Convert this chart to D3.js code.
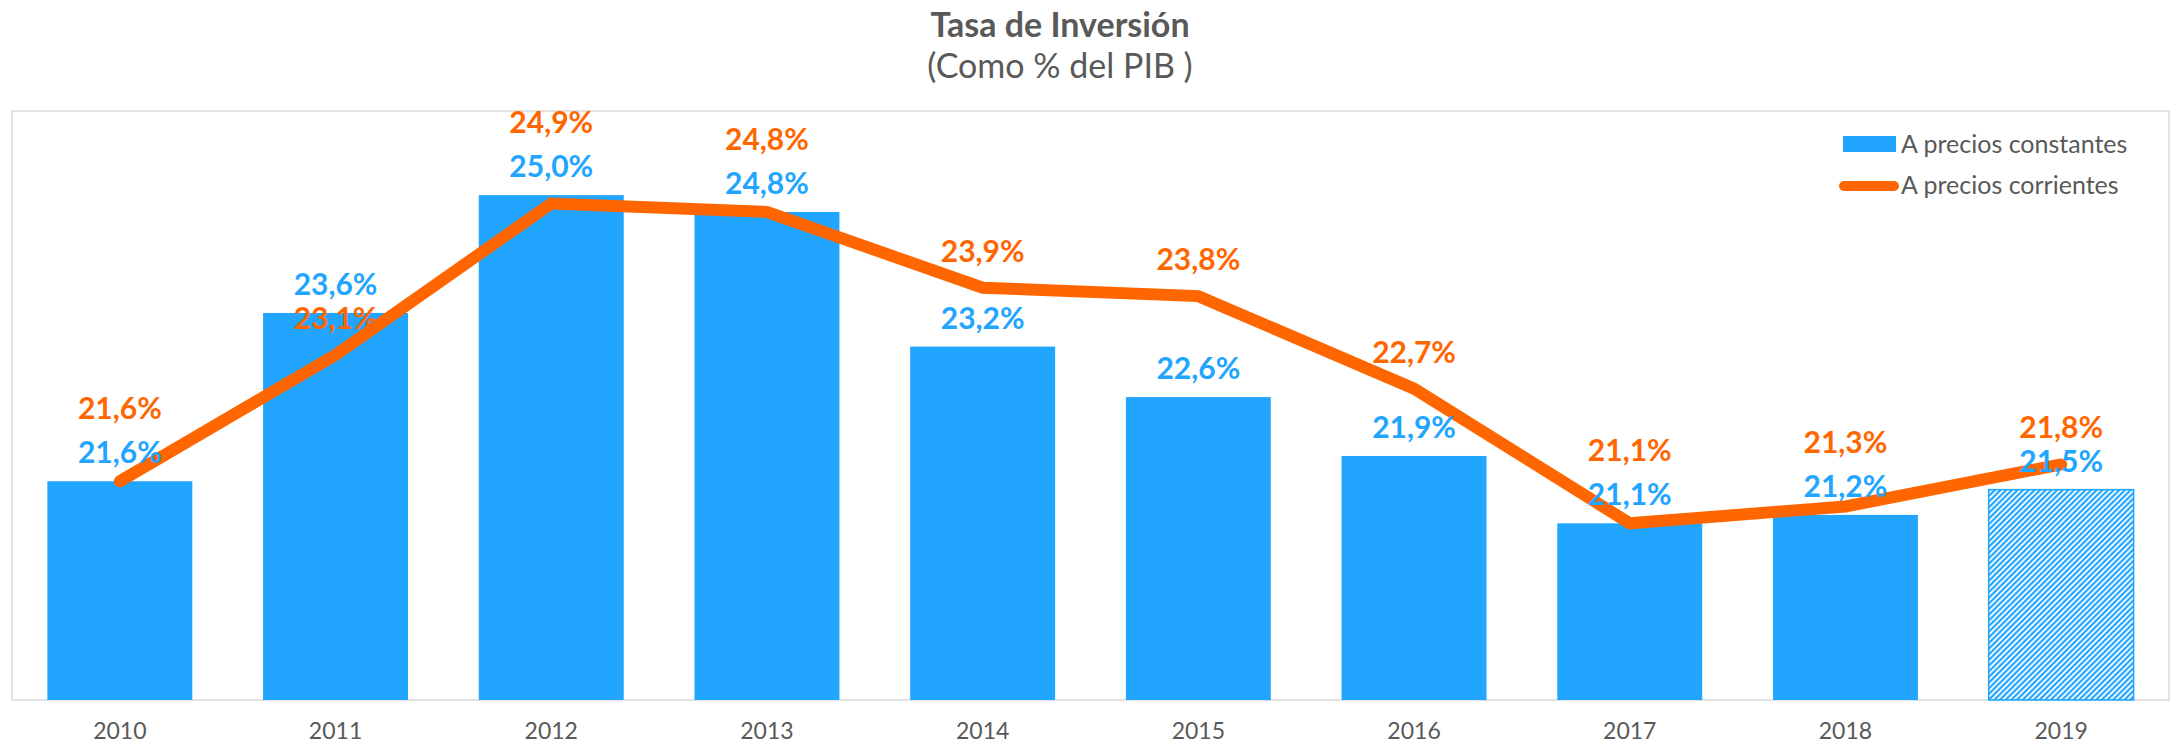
<!DOCTYPE html>
<meta charset="utf-8">
<title>Tasa de Inversión</title>
<script src="https://d3js.org/d3.v7.min.js"></script>
<style>
    body { margin: 0; background: #fff; }
    text { font-family: Lato, "Open Sans", sans-serif; }
    text.title { font-size: 34px; font-weight: bold; fill: #595959; text-anchor: middle; }
    text.subtitle { font-size: 34px; fill: #595959; text-anchor: middle; }
    text.year { font-size: 23px; fill: #595959; text-anchor: middle; }
    text.lbl { font-size: 30px; font-weight: bold; text-anchor: middle; }
    text.legend { font-size: 25px; fill: #595959; }
</style>
<body>
<div id="chart"></div>
<script>

// data
var years = ["2010","2011","2012","2013","2014","2015","2016","2017","2018","2019"];
var constantes = [21.6, 23.6, 25.0, 24.8, 23.2, 22.6, 21.9, 21.1, 21.2, 21.5];
var corrientes = [21.6, 23.1, 24.9, 24.8, 23.9, 23.8, 22.7, 21.1, 21.3, 21.8];
var estimado = ["2019"];   // hatched bar
var seriesNames = ["A precios constantes", "A precios corrientes"];
var yDomain = [19, 26];

var W = 2171, H = 744;
var plot = {left: 12, right: 2169, top: 111, bottom: 700};
var blue = "#21A5FF", orange = "#FF6600";

var svg = d3.select("#chart").append("svg")
    .attr("width", W)
    .attr("height", H);

// hatch pattern for the estimated year
var defs = svg.append("defs");
defs.append("pattern")
    .attr("id", "hatch")
    .attr("patternUnits", "userSpaceOnUse")
    .attr("width", 4)
    .attr("height", 4)
    .attr("patternTransform", "rotate(45)")
  .append("rect")
    .attr("x", 0).attr("y", 0)
    .attr("width", 2.2).attr("height", 4)
    .attr("fill", blue);

var x = d3.scaleBand()
    .domain(years)
    .range([plot.left, plot.right])
    .paddingInner(0.328)
    .paddingOuter(0.164);

var y = d3.scaleLinear()
    .domain(yDomain)
    .range([plot.bottom, plot.top]);

// plot area frame
svg.append("rect")
    .attr("x", plot.left)
    .attr("y", plot.top)
    .attr("width", plot.right - plot.left)
    .attr("height", plot.bottom - plot.top)
    .attr("fill", "none")
    .attr("stroke", "#D9D9D9")
    .attr("stroke-width", 1.5);

// titles
svg.append("text").attr("class", "title")
    .attr("x", 1060).attr("y", 37)
    .text("Tasa de Inversión");
svg.append("text").attr("class", "subtitle")
    .attr("x", 1060).attr("y", 78)
    .text("(Como % del PIB )");

var rows = years.map(function(d, i) {
    return {year: d, c: constantes[i], r: corrientes[i]};
});

// bars
svg.append("g")
  .selectAll("rect")
  .data(rows)
  .enter().append("rect")
    .attr("x", function(d) { return x(d.year); })
    .attr("y", function(d) { return y(d.c); })
    .attr("width", x.bandwidth())
    .attr("height", function(d) { return y(yDomain[0]) - y(d.c); })
    .attr("fill", function(d) { return estimado.indexOf(d.year) >= 0 ? "url(#hatch)" : blue; })
    .attr("stroke", function(d) { return estimado.indexOf(d.year) >= 0 ? blue : "none"; })
    .attr("stroke-width", 1.5);

// year axis (no ticks, just labels)
svg.append("g")
    .attr("transform", "translate(0," + plot.bottom + ")")
    .call(d3.axisBottom(x).tickSize(0).tickPadding(23))
    .call(function(g) {
        g.select(".domain").remove();
        g.selectAll("text").attr("class", "year").attr("fill", null).attr("font-size", null).attr("font-family", null);
    });

// line
var cx = function(d) { return x(d.year) + x.bandwidth() / 2; };
svg.append("path")
    .datum(rows)
    .attr("fill", "none")
    .attr("stroke", orange)
    .attr("stroke-width", 12)
    .attr("stroke-linecap", "round")
    .attr("stroke-linejoin", "miter")
    .attr("d", d3.line().x(cx).y(function(d) { return y(d.r); }));

var fmt = function(v) { return d3.format(".1f")(v).replace(".", ",") + "%"; };

// labels: blue above the bar, orange above the line point
// (pushed above the blue label when the two would collide)
var blueY = function(d) { return y(d.c) - 18; };
var orangeY = function(d) {
    var ly = y(d.r) - 26;
    if (Math.abs(ly - blueY(d)) < 25) ly = blueY(d) - 44;
    return ly;
};

svg.append("g").selectAll("text")
  .data(rows)
  .enter().append("text")
    .attr("class", "lbl")
    .attr("x", cx)
    .attr("y", blueY)
    .attr("fill", blue)
    .text(function(d) { return fmt(d.c); });

svg.append("g").selectAll("text")
  .data(rows)
  .enter().append("text")
    .attr("class", "lbl")
    .attr("x", cx)
    .attr("y", orangeY)
    .attr("fill", orange)
    .text(function(d) { return fmt(d.r); });

// legend
var legend = svg.append("g").attr("transform", "translate(1839,136)");
legend.append("rect")
    .attr("x", 4).attr("y", 0)
    .attr("width", 53).attr("height", 16)
    .attr("fill", blue);
legend.append("text").attr("class", "legend")
    .attr("x", 62).attr("y", 17)
    .text(seriesNames[0]);
legend.append("line")
    .attr("x1", 5).attr("x2", 55)
    .attr("y1", 50).attr("y2", 50)
    .attr("stroke", orange)
    .attr("stroke-width", 10)
    .attr("stroke-linecap", "round");
legend.append("text").attr("class", "legend")
    .attr("x", 62).attr("y", 58)
    .text(seriesNames[1]);

</script>
</body>
